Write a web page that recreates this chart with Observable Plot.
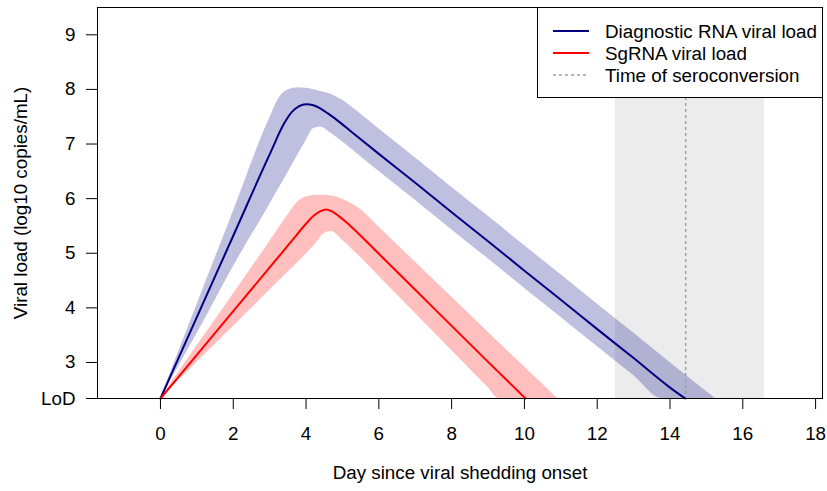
<!DOCTYPE html>
<html>
<head>
<meta charset="utf-8">
<script src="https://cdn.jsdelivr.net/npm/d3@7"></script>
<script src="https://cdn.jsdelivr.net/npm/@observablehq/plot@0.6"></script>
<style>
  html, body { margin: 0; padding: 0; background: #fff; }
  #wrap { position: relative; width: 827px; height: 491px; font-family: "Liberation Sans", Arial, Helvetica, sans-serif; }
  #legend { position: absolute; left: 537px; top: 7px; }
</style>
</head>
<body>
<div id="wrap"></div>
<script>
// ---- data ----
const LoD = 2.34;
const xTicks = [0, 2, 4, 6, 8, 10, 12, 14, 16, 18];
const yTicks = [LoD, 3, 4, 5, 6, 7, 8, 9];
const yTickLabels = ["LoD", "3", "4", "5", "6", "7", "8", "9"];

// Diagnostic RNA viral load (mean curve)
const rnaDays = [0, 1, 2, 3, 3.4, 3.6, 3.8, 4.0, 4.2, 4.4, 4.6, 5.0, 5.22, 6, 7, 8, 9, 10, 11, 12, 13, 14, 14.42];
const rnaLoad = [2.34, 3.83, 5.32, 6.81, 7.38, 7.58, 7.69, 7.73, 7.71, 7.65, 7.56, 7.36, 7.24, 6.82, 6.29, 5.75, 5.22, 4.68, 4.15, 3.61, 3.08, 2.54, 2.34];
// Diagnostic RNA uncertainty band
const rnaBandDays  = [0, 1, 2, 3, 3.3, 3.5, 3.8, 4.0, 4.2, 4.4, 4.6, 5.0, 5.5, 6, 7, 8, 9, 10, 11, 12, 13, 13.78, 14, 15, 15.25];
const rnaBandUpper = [2.34, 4.05, 5.76, 7.47, 7.88, 7.99, 8.03, 8.02, 8.00, 7.96, 7.93, 7.80, 7.55, 7.28, 6.75, 6.21, 5.68, 5.14, 4.61, 4.07, 3.54, 3.12, 3.00, 2.47, 2.34];
const rnaBandLower = [2.34, 3.52, 4.75, 5.89, 6.24, 6.47, 6.83, 7.06, 7.28, 7.31, 7.24, 7.04, 6.77, 6.50, 5.97, 5.43, 4.90, 4.36, 3.83, 3.29, 2.76, 2.34, 2.34, 2.34, 2.34];

// SgRNA viral load (mean curve)
const sgDays = [0, 1, 2, 3, 3.6, 4.0, 4.2, 4.4, 4.55, 4.7, 4.9, 5.1, 5.3, 6, 7, 8, 9, 10, 10.03];
const sgLoad = [2.34, 3.14, 3.94, 4.74, 5.22, 5.54, 5.68, 5.77, 5.80, 5.77, 5.68, 5.57, 5.45, 4.99, 4.33, 3.67, 3.01, 2.36, 2.34];
// SgRNA uncertainty band
const sgBandDays  = [0, 1, 2, 3, 3.5, 3.76, 4.0, 4.3, 4.5, 4.7, 5.0, 5.5, 6, 7, 8, 9, 9.29, 10, 10.91];
const sgBandUpper = [2.34, 3.30, 4.25, 5.21, 5.70, 5.93, 6.03, 6.06, 6.06, 6.05, 5.99, 5.80, 5.48, 4.84, 4.20, 3.56, 3.37, 2.92, 2.34];
const sgBandLower = [2.34, 3.00, 3.66, 4.32, 4.65, 4.82, 4.98, 5.20, 5.36, 5.40, 5.24, 4.92, 4.58, 3.90, 3.22, 2.54, 2.34, 2.34, 2.34];

// Seroconversion: median day and its range (grey band)
const seroDay = 14.43;
const seroRange = [12.5, 16.6];

const legendLabels = ["Diagnostic RNA viral load", "SgRNA viral load", "Time of seroconversion"];
const colRNA = "#000080";
const colSg = "#ff0000";
const colSero = "#a0a0a0";

// ---- chart ----
const font = "\"Liberation Sans\", Arial, Helvetica, sans-serif";
const fs = 18.8;
const idx = a => a.map((_, i) => i);

const chart = Plot.plot({
  width: 827,
  height: 491,
  marginLeft: 97,
  marginRight: 5,
  marginTop: 7,
  marginBottom: 93,
  style: { fontFamily: font, fontSize: fs + "px", background: "#fff", color: "#000", overflow: "visible" },
  x: { domain: [-1.73, 18.19] },
  y: { domain: [LoD, 9.5] },
  marks: [
    Plot.rect([seroRange], { x1: d => d[0], x2: d => d[1], fill: "#ececec" }),
    Plot.areaY(idx(rnaBandDays), { x: i => rnaBandDays[i], y1: i => rnaBandLower[i], y2: i => rnaBandUpper[i], fill: colRNA, fillOpacity: 0.25, curve: "monotone-x" }),
    Plot.areaY(idx(sgBandDays), { x: i => sgBandDays[i], y1: i => sgBandLower[i], y2: i => sgBandUpper[i], fill: colSg, fillOpacity: 0.25, curve: "monotone-x" }),
    Plot.ruleX([seroDay], { stroke: colSero, strokeWidth: 1.5, strokeDasharray: "3,3" }),
    Plot.line(idx(rnaDays), { x: i => rnaDays[i], y: i => rnaLoad[i], stroke: colRNA, strokeWidth: 2, curve: "monotone-x" }),
    Plot.line(idx(sgDays), { x: i => sgDays[i], y: i => sgLoad[i], stroke: colSg, strokeWidth: 2, curve: "monotone-x" }),
    Plot.frame({ stroke: "#000", strokeWidth: 1 }),
    Plot.axisX({ ticks: xTicks, tickSize: 11, tickPadding: 17, tickFormat: d => String(d), label: null, fontSize: fs }),
    Plot.axisY({ ticks: yTicks, tickSize: 11, tickPadding: 11, tickFormat: d => yTickLabels[yTicks.indexOf(d)], label: null, fontSize: fs }),
    Plot.text(["Day since viral shedding onset"], { frameAnchor: "bottom", dy: 74, lineAnchor: "middle", fontSize: fs }),
    Plot.text(["Viral load (log10 copies/mL)"], { frameAnchor: "left", dx: -77, rotate: -90, lineAnchor: "middle", textAnchor: "middle", fontSize: fs })
  ]
});

const wrap = document.getElementById("wrap");
wrap.appendChild(chart);

// ---- legend (top-right, white box) ----
const lw = 285, lh = 90;
const leg = d3.select(wrap).append("svg")
  .attr("id", "legend")
  .attr("width", lw + 1).attr("height", lh + 1)
  .style("font-family", font).style("font-size", fs + "px");
leg.append("rect").attr("x", 0.5).attr("y", 0.5).attr("width", lw).attr("height", lh)
  .attr("fill", "#fff").attr("stroke", "#000").attr("stroke-width", 1);
const legStyles = [
  { stroke: colRNA, dash: null, w: 2 },
  { stroke: colSg, dash: null, w: 2 },
  { stroke: colSero, dash: "3,3", w: 1.5 }
];
legendLabels.forEach((lab, i) => {
  const cy = 24 + i * 22;
  leg.append("line").attr("x1", 16).attr("x2", 52).attr("y1", cy).attr("y2", cy)
    .attr("stroke", legStyles[i].stroke).attr("stroke-width", legStyles[i].w)
    .attr("stroke-dasharray", legStyles[i].dash);
  leg.append("text").attr("x", 68).attr("y", cy).attr("dy", "0.35em").text(lab);
});
</script>
</body>
</html>
